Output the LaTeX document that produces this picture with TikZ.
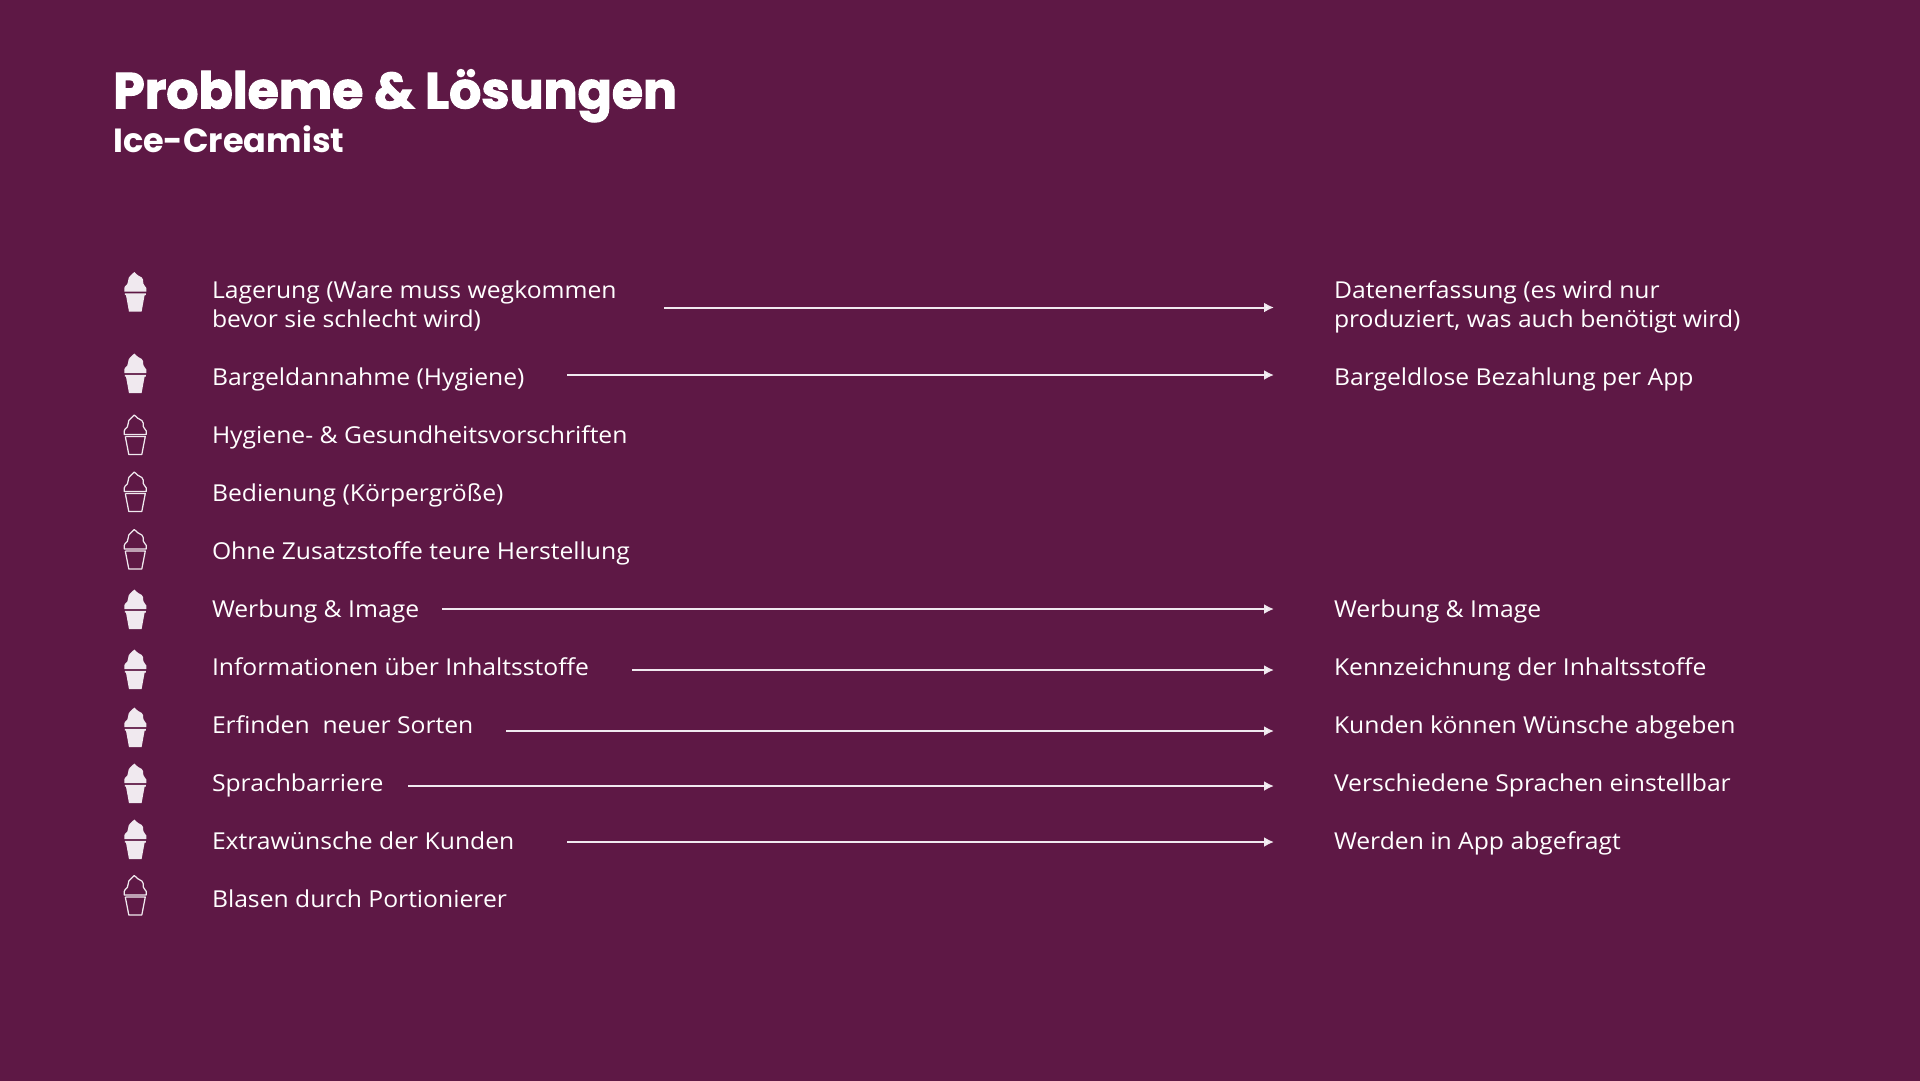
\documentclass[tikz,border=0pt]{standalone}
\usepackage{fontspec}
\setmainfont[FakeStretch=1.06]{Open Sans}
\newfontfamily\titlefont[BoldFeatures={FakeBold=2.2}]{Poppins}
\newfontfamily\subfont{Poppins}
\definecolor{bgc}{HTML}{5E1845}
\definecolor{iconc}{HTML}{F0E9EF}
\usetikzlibrary{arrows.meta}
\tikzset{
  body/.style={anchor=base west,inner sep=0pt,outer sep=0pt,text=white,font=\fontsize{23.3}{29}\selectfont,align=left},
  arr/.style={draw=iconc,line width=2pt,-{Latex[length=10pt,width=10pt,fill=white]}},
  pics/fullcone/.style={code={
    \fill[iconc] (-1,-20.5) .. controls (-2.5,-18) and (-6,-17) .. (-6.5,-15) .. controls (-7.5,-12) and (-7,-10.5) .. (-8,-8.5) .. controls (-10,-7) and (-11,-5.5) .. (-11,-4.5) -- (-11,-1) -- (11,-1) -- (11,-4.5) .. controls (10.5,-6) and (8.5,-7) .. (8,-9) .. controls (8,-12) and (8,-14) .. (6.5,-15) .. controls (3.5,-16.5) and (1,-18) .. (-1,-20.5) -- cycle;
    \fill[iconc] (-10.5,0.8) -- (10.5,0.8) -- (10.5,2.7) -- (9.3,2.7) -- (6.3,19.2) -- (-6.3,19.2) -- (-9.3,2.7) -- (-10.5,2.7) -- cycle;
  }},
  pics/linecone/.style={code={
    \draw[iconc,line width=1.25pt,line join=round] (-1,-20.5) .. controls (-2.5,-18) and (-6,-17) .. (-6.5,-15) .. controls (-7.5,-12) and (-7,-10.5) .. (-8,-8.5) .. controls (-10,-7) and (-11,-5.5) .. (-11,-4.5) -- (-11,-1) -- (11,-1) -- (11,-4.5) .. controls (10.5,-6) and (8.5,-7) .. (8,-9) .. controls (8,-12) and (8,-14) .. (6.5,-15) .. controls (3.5,-16.5) and (1,-18) .. (-1,-20.5) -- cycle;
    \draw[iconc,line width=1.25pt,line join=round] (-10,1) -- (10,1) -- (6.5,19) -- (-6.5,19) -- (-10,1);
  }}
}
\begin{document}
\begin{tikzpicture}[x=1pt,y=-1pt]
\fill[bgc,overlay] (-6,-6) rectangle (1926,1086);
\path[use as bounding box] (0,0) rectangle (1920,1080);
\node[anchor=base west,inner sep=0pt,text=white,font=\titlefont\bfseries\fontsize{50.5}{50}\selectfont] (title) at (113,108.3) {Probleme \& Lösungen};
\node[anchor=base west,inner sep=0pt,text=white,font=\subfont\bfseries\fontsize{33.5}{33}\selectfont] (subtitle) at (113,152) {Ice-Creamist};

\pic at (135.3,292.5) {fullcone};
\pic at (135.3,374) {fullcone};
\pic at (135.3,435.5) {linecone};
\pic at (135.3,492.5) {linecone};
\pic at (135.3,550) {linecone};
\pic at (135.3,610) {fullcone};
\pic at (135.3,670) {fullcone};
\pic at (135.3,728) {fullcone};
\pic at (135.3,784) {fullcone};
\pic at (135.3,840) {fullcone};
\pic at (135.3,896) {linecone};

\node[body] (p1) at (212,327) {Lagerung (Ware muss wegkommen\\bevor sie schlecht wird)};
\node[body] (p2) at (212,385) {Bargeldannahme (Hygiene)};
\node[body] (p3) at (212,443) {Hygiene- \& Gesundheitsvorschriften};
\node[body] (p4) at (212,501) {Bedienung (Körpergröße)};
\node[body] (p5) at (212,559.5) {Ohne Zusatzstoffe teure Herstellung};
\node[body] (p6) at (212,617.5) {Werbung \& Image};
\node[body] (p7) at (212,675.5) {Informationen über Inhaltsstoffe};
\node[body] (p8) at (212,733.5) {Erfinden\ \ neuer Sorten};
\node[body] (p9) at (212,791.5) {Sprachbarriere};
\node[body] (p10) at (212,849.5) {Extrawünsche der Kunden};
\node[body] (p11) at (212,907.5) {Blasen durch Portionierer};

\node[body] (s1) at (1334,327) {Datenerfassung (es wird nur\\produziert, was auch benötigt wird)};
\node[body] (s2) at (1334,385) {Bargeldlose Bezahlung per App};
\node[body] (s6) at (1334,617.5) {Werbung \& Image};
\node[body] (s7) at (1334,675.5) {Kennzeichnung der Inhaltsstoffe};
\node[body] (s8) at (1334,733.5) {Kunden können Wünsche abgeben};
\node[body] (s9) at (1334,791.5) {Verschiedene Sprachen einstellbar};
\node[body] (s10) at (1334,849.5) {Werden in App abgefragt};

\coordinate (a1) at (664,307.5);  \coordinate (b1) at (1274,307.5);
\coordinate (a2) at (567,375);    \coordinate (b2) at (1274,375);
\coordinate (a6) at (442,609);    \coordinate (b6) at (1274,609);
\coordinate (a7) at (632,670);    \coordinate (b7) at (1274,670);
\coordinate (a8) at (506,731);    \coordinate (b8) at (1274,731);
\coordinate (a9) at (408,786);    \coordinate (b9) at (1274,786);
\coordinate (a10) at (567,842);   \coordinate (b10) at (1274,842);
\foreach \i in {1,2,6,7,8,9,10} \draw[arr] (a\i) -- (b\i);
\end{tikzpicture}
\end{document}
